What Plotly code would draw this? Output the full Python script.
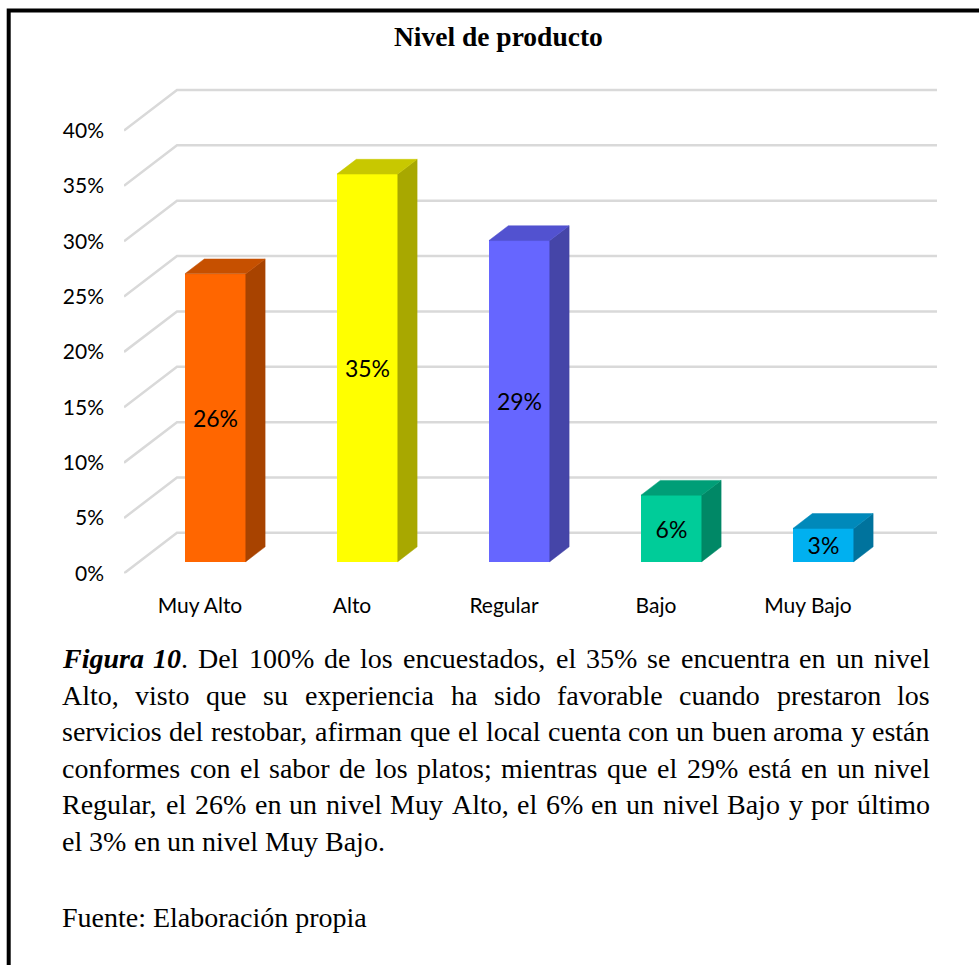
import plotly.graph_objects as go

# ---------------- data ----------------
categories = ["Muy Alto", "Alto", "Regular", "Bajo", "Muy Bajo"]
values = [26, 35, 29, 6, 3]
value_labels = ["26%", "35%", "29%", "6%", "3%"]
y_ticks = [0, 5, 10, 15, 20, 25, 30, 35, 40]
y_tick_labels = ["0%", "5%", "10%", "15%", "20%", "25%", "30%", "35%", "40%"]

title_text = "Nivel de producto"
caption_lines = [
    "Figura 10. Del 100% de los encuestados, el 35% se encuentra en un nivel",
    "Alto, visto que su experiencia ha sido favorable cuando prestaron los",
    "servicios del restobar, afirman que el local cuenta con un buen aroma y están",
    "conformes con el sabor de los platos; mientras que el 29% está en un nivel",
    "Regular, el 26% en un nivel Muy Alto, el 6% en un nivel Bajo y por último",
    "el 3% en un nivel Muy Bajo.",
]
source_text = "Fuente: Elaboración propia"

# ---------------- styles ----------------
front_colors = ["#FF6600", "#FFFF00", "#6666FF", "#00CC99", "#00B0F0"]
side_colors = ["#A84300", "#A8A800", "#4545A8", "#008866", "#00739D"]
top_colors = ["#C65000", "#C8C800", "#5252D0", "#009E77", "#0089BA"]

W, H = 979, 965
X_LEFT_PX = 124
PX_PER_CAT = 152.0
Y_ZERO_PX = 580
PX_PER_PCT = 11.2
X_MIN, X_MAX = -0.5, 4.86
Y_MIN, Y_MAX = 0, 45
DEPTH_X = 53 / PX_PER_CAT
DEPTH_Y = 41 / PX_PER_PCT
F0, F1 = 0.29, 0.655
BAR_W = 0.40

x_dom = [X_LEFT_PX / W, (X_LEFT_PX + (X_MAX - X_MIN) * PX_PER_CAT) / W]
y_dom = [(H - Y_ZERO_PX) / H, (H - (Y_ZERO_PX - (Y_MAX - Y_MIN) * PX_PER_PCT)) / H]

fig = go.Figure()

# front faces of bars
xc = [i + F0 * DEPTH_X for i in range(len(categories))]
b0 = F0 * DEPTH_Y
fig.add_trace(go.Bar(
    x=xc, y=values, base=[b0] * len(values), width=BAR_W,
    marker=dict(color=front_colors, line=dict(width=0)),
    text=value_labels, textposition="inside", insidetextanchor="middle",
    textangle=0, constraintext="none",
    textfont=dict(family="Lato", size=23, color="black"),
    hoverinfo="skip", showlegend=False,
))

# side and top faces
dX = (F1 - F0) * DEPTH_X
dY = (F1 - F0) * DEPTH_Y
for i, v in enumerate(values):
    xl = xc[i] - BAR_W / 2
    xr = xc[i] + BAR_W / 2
    yb = b0
    yt = b0 + v
    fig.add_trace(go.Scatter(
        x=[xr, xr + dX, xr + dX, xr, xr],
        y=[yb, yb + dY, yt + dY, yt, yb],
        mode="lines", fill="toself", fillcolor=side_colors[i],
        line=dict(width=0.5, color=side_colors[i]),
        hoverinfo="skip", showlegend=False,
    ))
    fig.add_trace(go.Scatter(
        x=[xl, xr, xr + dX, xl + dX, xl],
        y=[yt, yt, yt + dY, yt + dY, yt],
        mode="lines", fill="toself", fillcolor=top_colors[i],
        line=dict(width=0.5, color=top_colors[i]),
        hoverinfo="skip", showlegend=False,
    ))

# 3D gridlines
shapes = []
for t in y_ticks:
    path = (f"M {X_MIN},{t} L {X_MIN + DEPTH_X},{t + DEPTH_Y} "
            f"L {len(categories) - 0.5 + DEPTH_X},{t + DEPTH_Y}")
    shapes.append(dict(type="path", xref="x", yref="y", path=path,
                       line=dict(color="#D9D9D9", width=2.5), layer="below"))

# frame
shapes.append(dict(type="rect", xref="paper", yref="paper",
                   x0=8.7 / W, x1=1.05, y0=-0.05, y1=1 - 10.5 / H,
                   line=dict(color="black", width=4), fillcolor="rgba(0,0,0,0)",
                   layer="above"))

# ---------------- caption (justified) ----------------
FS = 28
TNR = {' ': 250, '%': 833, ',': 250, '.': 250, ';': 278, ':': 278,
       'A': 722, 'B': 667, 'C': 667, 'D': 722, 'E': 611, 'F': 556, 'G': 722,
       'H': 722, 'I': 333, 'J': 389, 'K': 722, 'L': 611, 'M': 889, 'N': 722,
       'O': 722, 'P': 556, 'Q': 722, 'R': 667, 'S': 556, 'T': 611, 'U': 722,
       'V': 722, 'W': 944, 'X': 722, 'Y': 722, 'Z': 611,
       'a': 444, 'b': 500, 'c': 444, 'd': 500, 'e': 444, 'f': 333, 'g': 500,
       'h': 500, 'i': 278, 'j': 278, 'k': 500, 'l': 278, 'm': 778, 'n': 500,
       'o': 500, 'p': 500, 'q': 500, 'r': 333, 's': 389, 't': 278, 'u': 500,
       'v': 500, 'w': 722, 'x': 500, 'y': 500, 'z': 444,
       'á': 444, 'é': 444, 'í': 278, 'ó': 500, 'ú': 500}
TNR_BI = {'F': 667, 'i': 278, 'g': 500, 'u': 556, 'r': 389, 'a': 500,
          '1': 500, '0': 500}


def w_reg(s):
    return sum(TNR.get(c, 500) for c in s) * FS / 1000.0


def w_bi(s):
    return sum(TNR_BI.get(c, 500) for c in s) * FS / 1000.0


def word_info(li, word):
    if li == 0 and word == "Figura":
        return "<b><i>Figura</i></b>", w_bi("Figura")
    if li == 0 and word == "10.":
        return "<b><i>10</i></b>.", w_bi("10") + w_reg(".")
    return word, w_reg(word)


LEFT_PX, RIGHT_PX = 62, 930
baselines = [675, 712.5, 749.5, 786.5, 823.5, 860.5]
annotations = []
cap_font = dict(family="Liberation Serif", size=FS, color="black")
for li, line in enumerate(caption_lines):
    words = line.split(" ")
    infos = [word_info(li, w) for w in words]
    justify = li < len(caption_lines) - 1
    total = sum(w for _, w in infos)
    if justify and len(words) > 1:
        gap = (RIGHT_PX - LEFT_PX - total) / (len(words) - 1)
    else:
        gap = w_reg(" ")
    x = LEFT_PX
    yc = baselines[li] - 0.33 * FS
    for txt, w in infos:
        annotations.append(dict(
            x=x / W, y=1 - yc / H, xref="paper", yref="paper",
            text=txt, showarrow=False, xanchor="left", yanchor="middle",
            font=cap_font, borderpad=0, borderwidth=0))
        x += w + gap

annotations.append(dict(
    x=LEFT_PX / W, y=1 - (937.5 - 0.33 * FS) / H, xref="paper", yref="paper",
    text=source_text, showarrow=False, xanchor="left", yanchor="middle",
    font=cap_font, borderpad=0, borderwidth=0))

annotations.append(dict(
    x=498 / W, y=1 - (46.5 - 0.33 * 27.5) / H, xref="paper", yref="paper",
    text=f"<b>{title_text}</b>", showarrow=False, xanchor="center",
    yanchor="middle", font=dict(family="Liberation Serif", size=27.5,
                                color="black")))

fig.update_layout(
    width=W, height=H, autosize=False,
    margin=dict(l=0, r=0, t=0, b=0, pad=0),
    paper_bgcolor="white", plot_bgcolor="white",
    showlegend=False, shapes=shapes, annotations=annotations,
    xaxis=dict(domain=x_dom, range=[X_MIN, X_MAX], tickmode="array",
               tickvals=list(range(len(categories))), ticktext=categories,
               showgrid=False, zeroline=False, showline=False, ticks="",
               tickfont=dict(family="Lato", size=21, color="black"),
               ticklabelstandoff=18, fixedrange=True),
    yaxis=dict(domain=y_dom, range=[Y_MIN, Y_MAX], tickmode="array",
               tickvals=y_ticks, ticktext=y_tick_labels,
               showgrid=False, zeroline=False, showline=False, ticks="",
               tickfont=dict(family="Lato", size=21, color="black"),
               ticklabelstandoff=19, fixedrange=True),
    bargap=0,
)

fig.write_html("out.html")
